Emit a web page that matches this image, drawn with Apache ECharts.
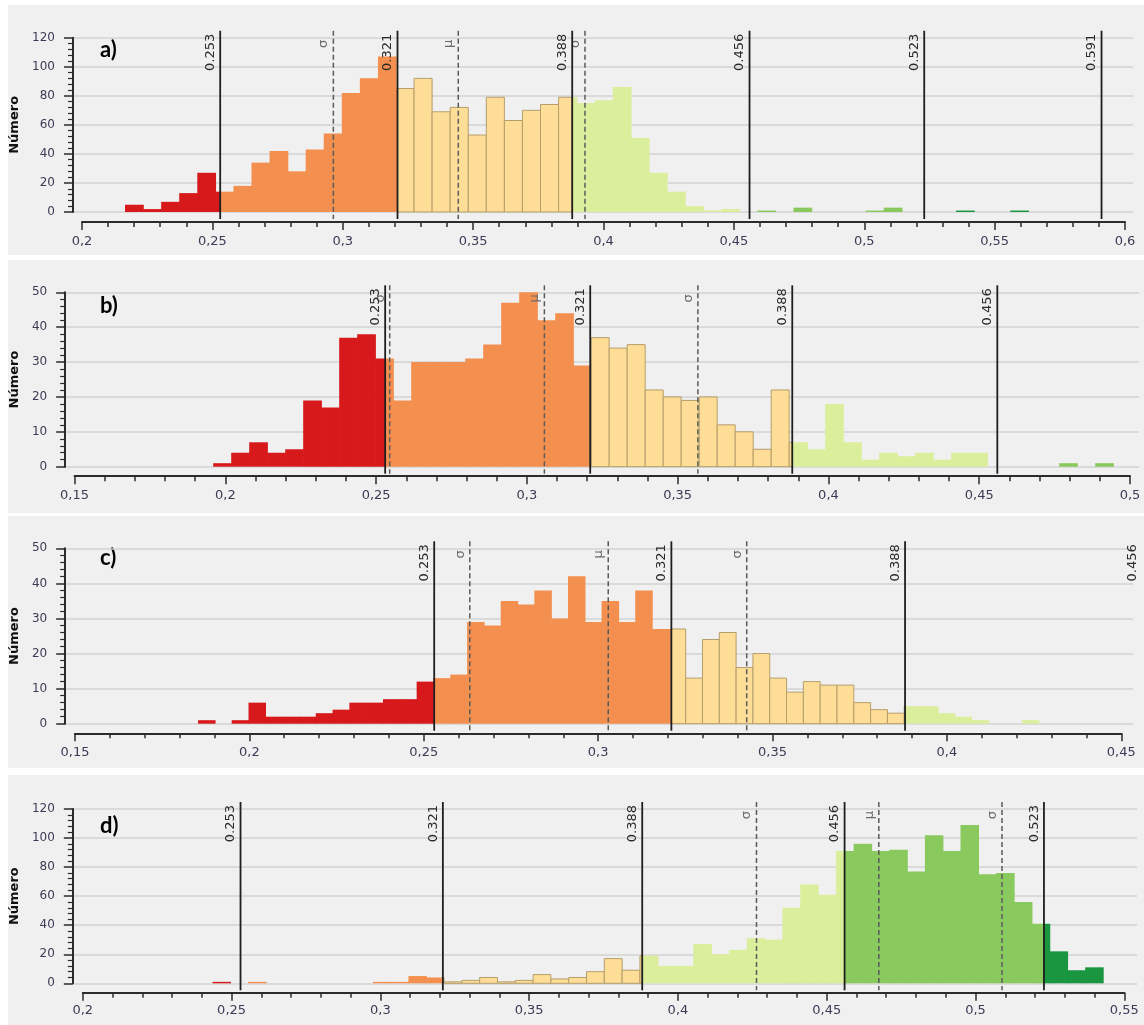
<!DOCTYPE html>
<html><head><meta charset="utf-8">
<script src="https://cdn.jsdelivr.net/npm/echarts@6/dist/echarts.min.js"></script>
<style>
html,body{margin:0;padding:0;background:#fff;}
#wrap{position:relative;width:1144px;height:1025px;}
.pn{position:absolute;left:8px;right:0;background:#f0f0f0;}
#c{position:absolute;left:0;top:0;width:1144px;height:1025px;}
</style>
</head><body>
<div id="wrap">
<div class="pn" style="top:5px;height:250px"></div>
<div class="pn" style="top:260px;height:253px"></div>
<div class="pn" style="top:516px;height:252px"></div>
<div class="pn" style="top:775px;height:250px"></div>
<div id="c"></div>
</div>
<script>
// ---------------- data ----------------
const classBreaks = [0.253, 0.321, 0.388, 0.456, 0.523, 0.591];
const breakLabels = ['0.253', '0.321', '0.388', '0.456', '0.523', '0.591'];
const classColors = ['#d7191c', '#f4904f', '#fedd96', '#dbee9b', '#89c95e', '#1a9641'];
const statLabels = ['σ', 'μ', 'σ'];
const panelLabels = ['a)', 'b)', 'c)', 'd)'];
const yName = 'Número';

const aBinStart = 0.2165, aBinWidth = 0.006928;
const aCounts = [5,2,7,13,27,14,18,34,42,28,43,54,82,92,107,85,92,69,72,53,79,63,70,74,79,75,77,86,51,27,14,4,1,2,0,1,0,3,0,0,0,1,3,0,0,0,1,0,0,1];
const aStats = [0.2964, 0.3443, 0.3929];
const aXRange = [0.2, 0.6], aYRange = [0, 120];

const bBinStart = 0.19597, bBinWidth = 0.005969;
const bCounts = [1,4,7,4,5,19,17,37,38,31,19,30,30,30,31,35,47,50,42,44,29,37,34,35,22,20,19,20,12,10,5,22,7,5,18,7,2,4,3,4,2,4,4,0,0,0,0,1,0,1];
const bStats = [0.2545, 0.3058, 0.3567];
const bXRange = [0.15, 0.5], bYRange = [0, 50];

const cBinStart = 0.18529, cBinWidth = 0.004821;
const cCounts = [1,0,1,6,2,2,2,3,4,6,6,7,7,12,13,14,29,28,35,34,38,30,42,29,35,29,38,27,27,13,24,26,16,20,13,9,12,11,11,6,4,3,5,5,3,2,1,0,0,1];
const cStats = [0.2632, 0.3029, 0.3426];
const cXRange = [0.15, 0.45], cYRange = [0, 50];

const dBinStart = 0.24359, dBinWidth = 0.005985;
const dCounts = [1,0,1,0,0,0,0,0,0,1,1,5,4,1,2,4,1,2,6,3,4,8,17,9,19,12,12,27,20,23,31,30,52,68,61,91,96,91,92,77,102,91,109,75,76,56,41,22,9,11];
const dStats = [0.4264, 0.4675, 0.5089];
const dXRange = [0.2, 0.55], dYRange = [0, 120];

const xInterval = 0.05;
const yIntervals = [20, 10, 10, 20];

// ---------------- layout (pixels) ----------------
const layouts = [
  {left:82,   right:19,   top:37.7,  height:174.3, yAxisX:73,   gridEnd:1133, xOff:10,  nameGap:40, lblMargin:13, labelY:52},
  {left:71.7, right:14,   top:292.3, height:174.4, yAxisX:62.3, gridEnd:1139, xOff:9.5, nameGap:34, lblMargin:13, labelY:308},
  {left:71.5, right:22.7, top:548.3, height:175.4, yAxisX:61.7, gridEnd:1133, xOff:9.6, nameGap:33, lblMargin:13, labelY:560},
  {left:81,   right:19.7, top:809,   height:174.3, yAxisX:71,   gridEnd:1137, xOff:9.4, nameGap:41, lblMargin:11, labelY:828}
];

const panelsData = [
  {start:aBinStart, width:aBinWidth, counts:aCounts, stats:aStats, xr:aXRange, yr:aYRange},
  {start:bBinStart, width:bBinWidth, counts:bCounts, stats:bStats, xr:bXRange, yr:bYRange},
  {start:cBinStart, width:cBinWidth, counts:cCounts, stats:cStats, xr:cXRange, yr:cYRange},
  {start:dBinStart, width:dBinWidth, counts:dCounts, stats:dStats, xr:dXRange, yr:dYRange}
];

const LABEL_COLOR = '#3b3b55';
const FONT = '"DejaVu Sans", Verdana, sans-serif';

function fmtX(v){ return String(Math.round(v*1000)/1000).replace('.', ','); }
function classOf(x){ let k=0; while(k<classBreaks.length && x>=classBreaks[k]) k++; return Math.min(k, classColors.length-1); }

function histRender(params, api){
  const x0 = api.value(0), x1 = api.value(1), c = api.value(2);
  if (!(c > 0)) return null;
  const cuts = [x0];
  classBreaks.forEach(b => { if (b > x0 && b < x1) cuts.push(b); });
  cuts.push(x1);
  const children = [];
  for (let j = 0; j < cuts.length-1; j++) {
    const k = classOf((cuts[j]+cuts[j+1])/2);
    const pA = api.coord([cuts[j], c]), pB = api.coord([cuts[j+1], 0]);
    const yellow = (k === 2);
    const w = pB[0]-pA[0] + (yellow ? 0 : 0.7);
    children.push({type:'rect',
      shape:{x:pA[0], y:pA[1], width:w, height:pB[1]-pA[1]},
      style:{fill:classColors[k], stroke: yellow ? '#b59e6c' : null, lineWidth: yellow ? 1 : 0}});
  }
  return {type:'group', children};
}

function makeLineRender(labels, yMax, xMax, dashed){
  return function(params, api){
    const v = api.value(0);
    const pTop = api.coord([v, yMax]), pBot = api.coord([v, 0]);
    const x = pTop[0], top = pTop[1]-7, bot = pBot[1]+7;
    const children = [];
    if (v <= xMax + 1e-9) {
      children.push({type:'line', shape:{x1:x, y1:top, x2:x, y2:bot},
        style:{stroke: dashed ? '#5a5a5a' : '#1e1e1e', lineWidth: dashed ? 1.5 : 1.8, lineDash: dashed ? [5,3] : null}});
    }
    children.push({type:'text', x: x-3, y: top + (dashed ? 9 : 3), rotation: Math.PI/2,
      style:{text: labels[params.dataIndex], fill: dashed ? '#6a6a6a' : '#2a2a2a',
             font: '13px ' + FONT, align:'right', verticalAlign:'bottom'}});
    return {type:'group', children};
  };
}

const grids = [], xAxes = [], yAxes = [], series = [], graphics = [];
panelsData.forEach((p, i) => {
  const L = layouts[i];
  const gMain = grids.length;
  grids.push({left:L.left, right:L.right, top:L.top, height:L.height, containLabel:false});
  grids.push({left:L.yAxisX, right:1144-L.gridEnd, top:L.top, height:L.height, containLabel:false});
  xAxes.push({type:'value', gridIndex:gMain, position:'bottom', offset:L.xOff,
    min:p.xr[0], max:p.xr[1], interval:xInterval,
    axisLine:{show:true, onZero:false, lineStyle:{color:'#2b2b2b', width:2}},
    axisTick:{show:true, inside:false, length:8, lineStyle:{color:'#2b2b2b', width:1.5}},
    minorTick:{show:true, splitNumber:5, length:5, lineStyle:{color:'#2b2b2b', width:1.5}},
    splitLine:{show:false},
    axisLabel:{formatter:fmtX, color:LABEL_COLOR, fontFamily:FONT, fontSize:13, margin:L.lblMargin}
  });
  xAxes.push({type:'value', gridIndex:gMain+1, min:0, max:1, show:false});
  yAxes.push({type:'value', gridIndex:gMain, position:'left', offset:L.left-L.yAxisX,
    min:p.yr[0], max:p.yr[1], interval:yIntervals[i],
    name:yName, nameLocation:'middle', nameGap:L.nameGap,
    nameTextStyle:{fontFamily:FONT, fontSize:13, fontWeight:'bold', color:'#111'},
    axisLine:{show:true, onZero:false, lineStyle:{color:'#2b2b2b', width:2}},
    axisTick:{show:true, inside:false, length:9, lineStyle:{color:'#2b2b2b', width:1.5}},
    minorTick:{show:true, splitNumber:5, length:5, lineStyle:{color:'#2b2b2b', width:1.2}},
    splitLine:{show:false},
    axisLabel:{color:LABEL_COLOR, fontFamily:FONT, fontSize:12, margin:18}
  });
  yAxes.push({type:'value', gridIndex:gMain+1, min:p.yr[0], max:p.yr[1], interval:yIntervals[i],
    axisLine:{show:false}, axisTick:{show:false}, axisLabel:{show:false},
    splitLine:{show:true, lineStyle:{color:'#d3d3d3', width:1.5}}
  });

  const hist = p.counts.map((c, j) => [p.start + j*p.width, p.start + (j+1)*p.width, c]);
  series.push({type:'custom', xAxisIndex:gMain, yAxisIndex:gMain, renderItem:histRender,
    encode:{x:[0,1], y:2}, data:hist, clip:false, silent:true, z:2});

  const brks = [], brkLbl = [];
  classBreaks.forEach((b, k) => { if (b <= p.xr[1] + 0.01) { brks.push([b, 0]); brkLbl.push(breakLabels[k]); } });
  series.push({type:'custom', xAxisIndex:gMain, yAxisIndex:gMain,
    renderItem:makeLineRender(brkLbl, p.yr[1], p.xr[1], false),
    encode:{x:0, y:1}, data:brks, clip:false, silent:true, z:4});
  series.push({type:'custom', xAxisIndex:gMain, yAxisIndex:gMain,
    renderItem:makeLineRender(statLabels, p.yr[1], p.xr[1], true),
    encode:{x:0, y:1}, data:p.stats.map(s => [s, 0]), clip:false, silent:true, z:3});

  graphics.push({type:'text', left:100, top:L.labelY-13,
    style:{text:panelLabels[i], font:'bold 22px Lato, "Open Sans", sans-serif', fill:'#000'}});
});

const chart = echarts.init(document.getElementById('c'), null, {renderer:'canvas'});
chart.setOption({
  backgroundColor:'transparent',
  animation:false,
  grid:grids, xAxis:xAxes, yAxis:yAxes, series:series, graphic:graphics
});
</script>
</body></html>
